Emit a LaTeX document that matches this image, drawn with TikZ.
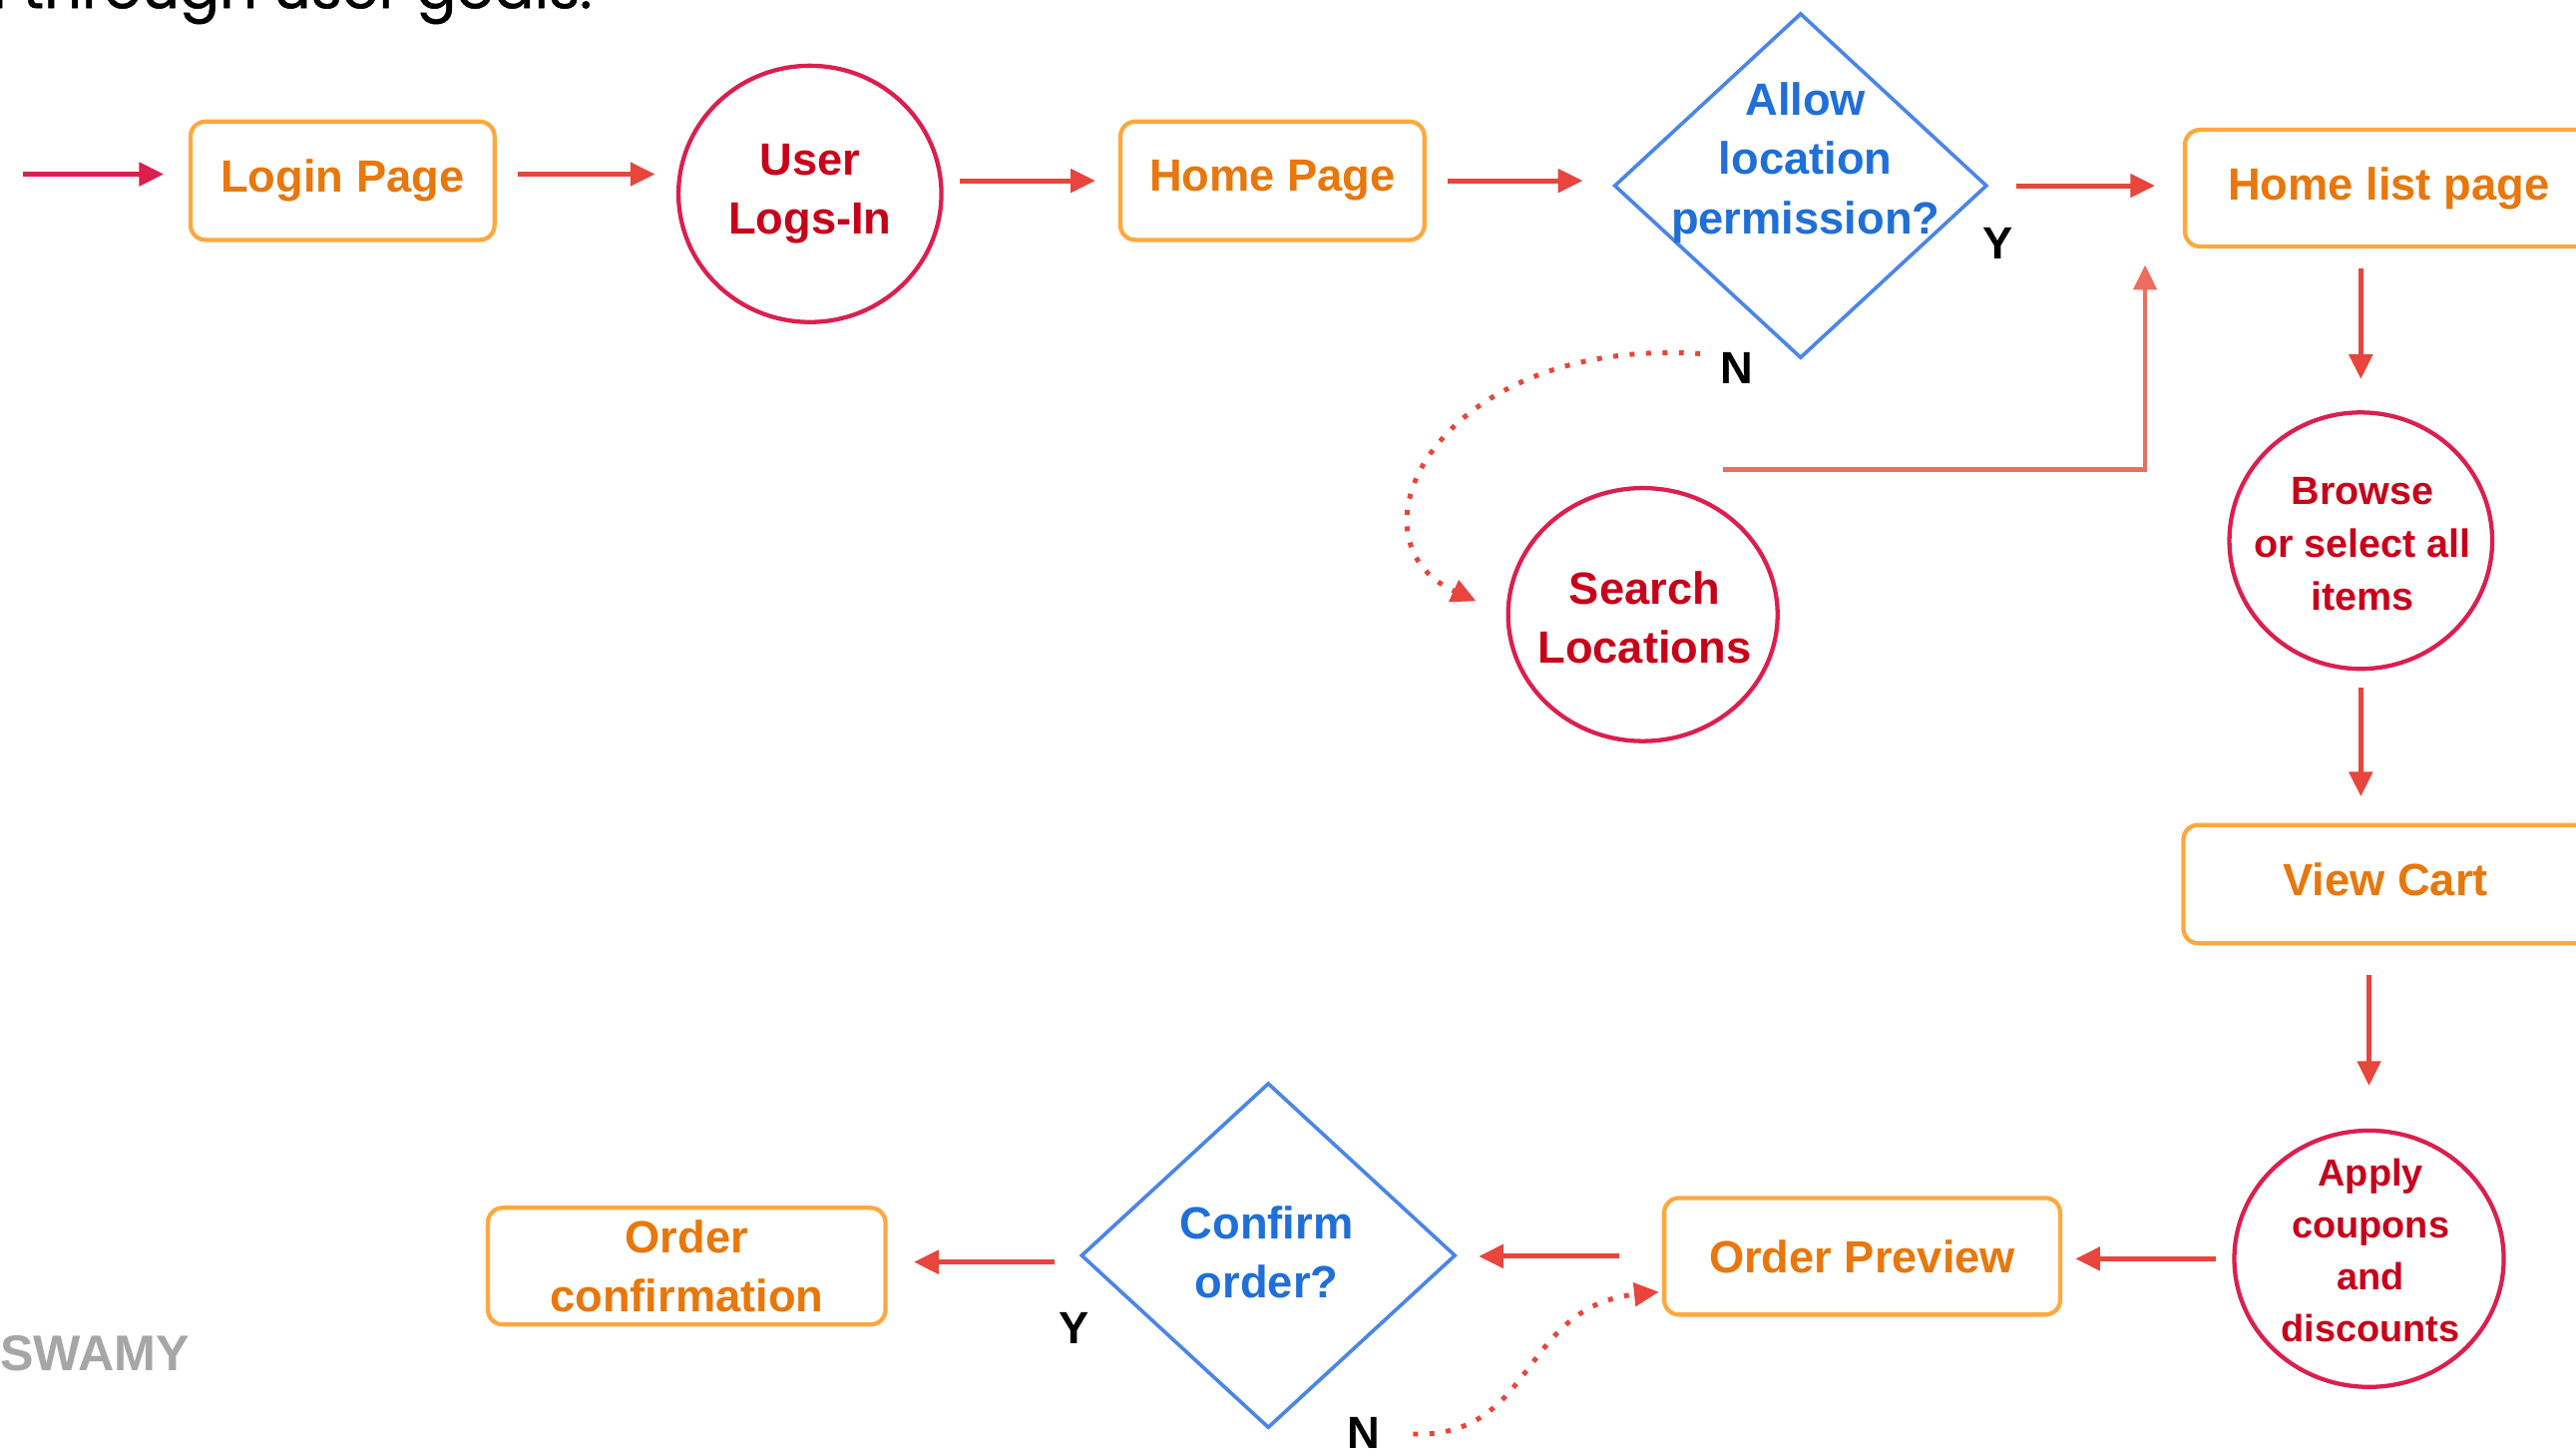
\documentclass[tikz,border=0pt]{standalone}
\usepackage{fontspec}
\setmainfont{Liberation Sans}
\newfontfamily\poppinsf{Poppins}[FakeBold=0.8]
\usetikzlibrary{arrows.meta,shapes.geometric}
\definecolor{orangeline}{HTML}{FFA83E}
\definecolor{orangetext}{HTML}{E8770C}
\definecolor{crimson}{HTML}{DC1F4E}
\definecolor{darkred}{HTML}{C8001A}
\definecolor{arrowred}{HTML}{E8453C}
\definecolor{lightred}{HTML}{EF6C60}
\definecolor{blueline}{HTML}{4A86E8}
\definecolor{bluetext}{HTML}{1F6FD9}
\definecolor{graytext}{HTML}{A6A6A6}
\tikzset{
  rbox/.style={draw=orangeline, line width=2.6pt, rounded corners=9pt, text=orangetext, align=center, inner sep=0pt},
  oval/.style={ellipse, draw=crimson, line width=2.6pt, inner sep=0pt},
  otext/.style={text=darkred, align=center, inner sep=0pt},
  dia/.style={diamond, draw=blueline, line width=2.2pt, inner sep=0pt},
  dtext/.style={text=bluetext, align=center, inner sep=0pt},
  arr/.style={draw=arrowred, line width=3pt, -{Triangle[length=15pt,width=14pt]}},
  arrlight/.style={draw=lightred, line width=2.6pt, -{Triangle[length=15pt,width=14pt]}},
  dots/.style={draw=arrowred, line width=3pt, dash pattern=on 3pt off 7pt, -{Triangle[length=15pt,width=14pt]}},
  yn/.style={text=black, inner sep=0pt},
  big/.style={font=\bfseries\fontsize{27.5}{36}\selectfont},
  mid/.style={font=\bfseries\fontsize{24}{32}\selectfont},
  small/.style={font=\bfseries\fontsize{23}{31.5}\selectfont}
}
\begin{document}
\begin{tikzpicture}[x=1pt,y=-1pt, big]
\useasboundingbox (0,0) rectangle (1568,886);
\clip (0,0) rectangle (1568,886);
\fill[white] (0,0) rectangle (1568,886);

% top cut text
\node[anchor=base west, inner sep=0pt, text=black, font=\poppinsf\mdseries\fontsize{36}{40}\selectfont] (toptext) at (-5,5) {l through user goals.};

% nodes
\node[rbox, minimum width=185, minimum height=72] (login) at (208.5,110) {Login Page};
\node[oval, minimum width=160, minimum height=156] (user) at (493,118) {};
\node[otext] (usertext) at (493,118) {User\\Logs-In};
\node[rbox, minimum width=185, minimum height=72] (home) at (774.5,110) {Home Page};
\node[dia, minimum width=227, minimum height=210] (allow) at (1096,113) {};
\node[dtext] (allowtext) at (1099,99) {Allow\\location\\permission?};
\node[rbox, minimum width=248, minimum height=71] (homelist) at (1454,114.5) {Home list page\vphantom{g}};
\node[oval, minimum width=164, minimum height=154] (search) at (1000,374) {};
\node[otext] (searchtext) at (1001,376) {Search\\Locations};
\node[oval, minimum width=160, minimum height=156] (browse) at (1437,329) {};
\node[otext, mid] (browsetext) at (1438,331) {Browse\\or select all\\items};
\node[rbox, minimum width=246, minimum height=72] (viewcart) at (1452,538) {View Cart\vphantom{g}};
\node[oval, minimum width=164, minimum height=156] (apply) at (1442,766) {};
\node[otext, small] (applytext) at (1443,761) {Apply\\coupons\\and\\discounts};
\node[rbox, minimum width=241, minimum height=71] (preview) at (1133.5,764.5) {Order Preview};
\node[dia, minimum width=228, minimum height=210] (confirm) at (772,764) {};
\node[dtext] (confirmtext) at (771,762) {Confirm\\order?};
\node[rbox, minimum width=242, minimum height=71] (orderconf) at (418,770.5) {Order\\confirmation};

% labels
\node[yn] (y1) at (1216,148) {Y};
\node[yn] (n1) at (1057,224) {N};
\node[yn] (y2) at (654,808) {Y};
\node[yn] (n2) at (830,872) {N};
\node[anchor=base west, inner sep=0pt, text=graytext, font=\bfseries\fontsize{30.5}{36}\selectfont] (swamy) at (0,834) {SWAMY};

% connectors
\coordinate (start) at (14,106);
\draw[arr, draw=crimson, shorten >=15pt] (start) -- (login.west |- start);
\draw[arr, shorten <=13pt, shorten >=13pt] ([yshift=4pt]login.east) -- ([yshift=4pt]login.east -| user.west);
\draw[arr, shorten <=10pt, shorten >=14pt] (user.east |- home) -- (home.west);
\draw[arr, shorten <=13pt, shorten >=18pt] (home.east) -- (home.east -| allow.west);
\draw[arr, shorten <=17pt, shorten >=17pt] (allow.east) -- (allow.east -| homelist.west);
\draw[arr, shorten <=12pt, shorten >=19pt] (browse |- homelist.south) -- (browse.north);
\draw[arr, shorten <=10pt, shorten >=16pt] (browse.south) -- (browse |- viewcart.north);
\draw[arr, shorten <=18pt, shorten >=26pt] (apply |- viewcart.south) -- (apply.north);
\draw[arr, shorten <=10pt, shorten >=8pt] (apply.west) -- (apply.west -| preview.east);
\draw[arr, shorten <=26pt, shorten >=13pt] (preview.west) -- (preview.west -| confirm.east);
\draw[arr, shorten <=15pt, shorten >=16pt] ([yshift=-4pt]confirm.west) -- ([yshift=-4pt]confirm.west -| orderconf.east);

\coordinate (s1) at ([shift={(49pt,10pt)}]search.north);
\coordinate (s2) at ([shift={(-23pt,-10pt)}]homelist.south west);
\draw[arrlight] (s1) -| (s2);

\draw[dots, shorten <=12pt, shorten >=20pt] ([yshift=8pt]n1.west) .. controls (875,205) and (815,328) .. (search.west);
\draw[dots, shorten <=20pt, shorten >=2pt] (n2.east) .. controls (935,875) and (925,795) .. (preview.190);
\end{tikzpicture}
\end{document}
